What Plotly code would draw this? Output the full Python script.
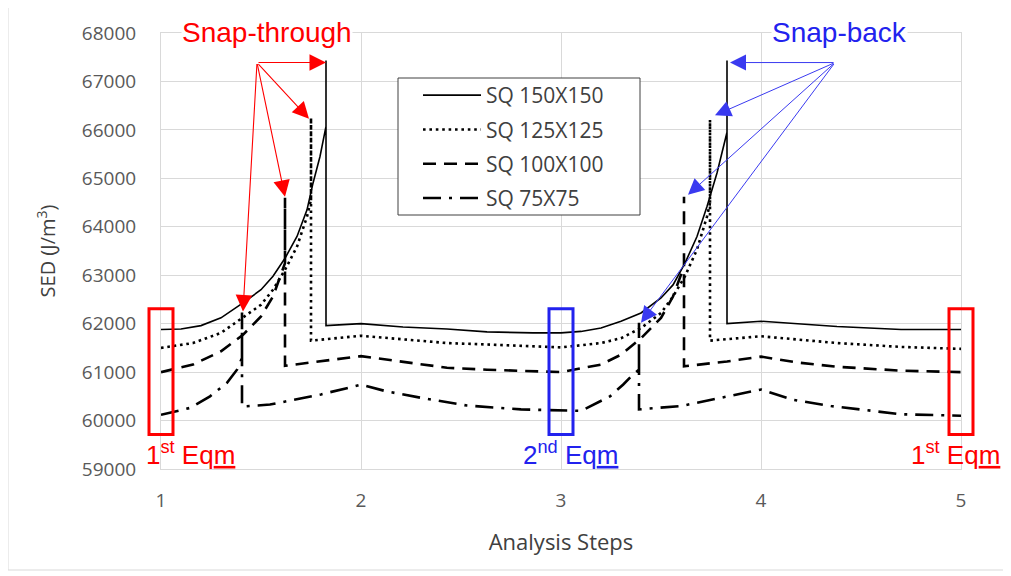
import plotly.graph_objects as go

# ---------------- data ----------------
names = ["SQ 150X150", "SQ 125X125", "SQ 100X100", "SQ 75X75"]

x_150 = [1.0, 1.1, 1.2, 1.3, 1.41, 1.5, 1.56, 1.62, 1.68, 1.73, 1.76, 1.795, 1.825, 1.825, 1.825,
         2.0, 2.21, 2.43, 2.63, 2.86, 3.0, 3.1, 3.2, 3.3, 3.4, 3.5, 3.56, 3.62, 3.68, 3.73, 3.78,
         3.83, 3.83, 3.83, 4.0, 4.38, 4.7, 5.0]
y_150 = [61880, 61890, 61960, 62120, 62430, 62700, 62980, 63350, 63800, 64350, 64900, 65450, 66070, 67430, 61960,
         62000, 61930, 61890, 61830, 61810, 61810, 61840, 61910, 62050, 62220, 62530, 62800, 63250, 63800, 64420, 65110,
         65950, 67430, 62000, 62050, 61940, 61880, 61880]

x_125 = [1.0, 1.16, 1.3, 1.41, 1.5, 1.56, 1.62, 1.68, 1.73, 1.75, 1.75, 1.75,
         2.0, 2.21, 2.43, 2.63, 3.0, 3.2, 3.3, 3.4, 3.5, 3.56, 3.62, 3.68, 3.73, 3.745, 3.745, 3.745,
         4.0, 4.38, 4.7, 5.0]
y_125 = [61500, 61600, 61810, 62120, 62390, 62700, 63110, 63590, 64210, 64560, 66250, 61650,
         61750, 61670, 61600, 61570, 61510, 61600, 61700, 61910, 62220, 62560, 62980, 63530, 64210, 64490, 66210, 61650,
         61740, 61600, 61520, 61480]

x_100 = [1.0, 1.16, 1.3, 1.41, 1.5, 1.56, 1.62, 1.62, 1.62,
         2.0, 2.21, 2.43, 2.63, 3.0, 3.2, 3.3, 3.4, 3.5, 3.56, 3.615, 3.615, 3.615,
         3.83, 4.0, 4.18, 4.38, 4.7, 5.0]
y_100 = [61000, 61155, 61430, 61770, 62150, 62560, 63250, 64600, 61130,
         61330, 61220, 61090, 61050, 61000, 61155, 61360, 61700, 62120, 62560, 63180, 64620, 61120,
         61220, 61320, 61200, 61110, 61030, 61000]

x_75 = [1.0, 1.145, 1.245, 1.33, 1.38, 1.405, 1.405, 1.405, 1.545, 1.8,
        2.0, 2.13, 2.3, 2.53, 2.8, 3.0, 3.1, 3.245, 3.31, 3.36, 3.39, 3.39, 3.39,
        3.6, 3.8, 4.0, 4.16, 4.35, 4.7, 5.0]
y_75 = [60120, 60260, 60500, 60780, 61050, 61290, 62230, 60290, 60330, 60540,
        60740, 60600, 60470, 60310, 60230, 60210, 60200, 60500, 60740, 60950, 61050, 62020, 60230,
        60300, 60470, 60640, 60430, 60300, 60130, 60100]

x_ticks = [1, 2, 3, 4, 5]
y_ticks = [59000, 60000, 61000, 62000, 63000, 64000, 65000, 66000, 67000, 68000]

# snap points (arrow targets) in data units
snap_through_tail = (1.48, 67390)
snap_through_heads = [(1.825, 67390), (1.74, 66230), (1.62, 64620), (1.41, 62250)]
snap_back_tail = (4.37, 67390)
snap_back_heads = [(3.845, 67390), (3.77, 66300), (3.635, 64660), (3.40, 62020)]

eqm_label_x = [1.15, 3.045, 4.975]      # label centres, in analysis steps
eqm_steps = [1, 3, 5]
eqm_colors = ["#FF0000", "#2222EE", "#FF0000"]
eqm_texts = ["1<sup>st</sup> Eq<u>m</u>", "2<sup>nd</sup> Eq<u>m</u>", "1<sup>st</sup> Eq<u>m</u>"]

# ---------------- layout geometry ----------------
XR = [1, 5]
YR = [59000, 68000]
BODY = 8                      # page body margin of the html file
PL, PR, PT, PB = 161, 961, 33, 469   # plot area in page pixels


def xp(v):
    return (v - XR[0]) / (XR[1] - XR[0])


def yp(v):
    return (v - YR[0]) / (YR[1] - YR[0])


def px2x(px):
    return (px - PL) / (PR - PL)


def px2y(py):
    return (PB - py) / (PB - PT)


styles = [
    dict(color="black", width=1.6, dash="solid"),
    dict(color="black", width=2.6, dash="2.6px,3.8px"),
    dict(color="black", width=2.6, dash="13px,8px"),
    dict(color="black", width=2.6, dash="18px,8px,3px,8px"),
]

fig = go.Figure()
for i, (xs, ys) in enumerate([(x_150, y_150), (x_125, y_125), (x_100, y_100), (x_75, y_75)]):
    fig.add_trace(go.Scatter(x=xs, y=ys, mode="lines", name=names[i],
                             line=styles[i], legendgroup=f"g{i}"))

annotations = []
for (hx, hy) in snap_through_heads:
    annotations.append(dict(x=hx, y=hy, xref="x", yref="y", ax=snap_through_tail[0], ay=snap_through_tail[1],
                            axref="x", ayref="y", text="", showarrow=True, arrowhead=2, arrowsize=3.0,
                            arrowwidth=1.1, arrowcolor="#FF0000", standoff=0, startstandoff=0))
for (hx, hy) in snap_back_heads:
    annotations.append(dict(x=hx, y=hy, xref="x", yref="y", ax=snap_back_tail[0], ay=snap_back_tail[1],
                            axref="x", ayref="y", text="", showarrow=True, arrowhead=2, arrowsize=3.2,
                            arrowwidth=1.0, arrowcolor="#3A3AF0", standoff=0, startstandoff=0))

annotations.append(dict(x=px2x(267), y=px2y(32), xref="paper", yref="paper", text="Snap-through", showarrow=False,
                        font=dict(family="Liberation Sans, Arial", size=28, color="#FF0000"),
                        xanchor="center", yanchor="middle", bgcolor="white", borderpad=0))
annotations.append(dict(x=px2x(839), y=px2y(32), xref="paper", yref="paper", text="Snap-back", showarrow=False,
                        font=dict(family="Liberation Sans, Arial", size=28, color="#2222EE"),
                        xanchor="center", yanchor="middle", bgcolor="white", borderpad=0))

shapes = []
for s, lx, c, t in zip(eqm_steps, eqm_label_x, eqm_colors, eqm_texts):
    shapes.append(dict(type="rect", xref="paper", yref="paper",
                       x0=xp(s - 0.06), x1=xp(s + 0.06), y0=yp(59710), y1=yp(62310),
                       line=dict(color=c, width=3), fillcolor="rgba(0,0,0,0)", layer="above"))
    annotations.append(dict(x=xp(lx), y=yp(59330), xref="paper", yref="paper", text=t, showarrow=False,
                            font=dict(family="Liberation Sans, Arial", size=26, color=c),
                            xanchor="center", yanchor="middle"))

# legend frame (white box with dark border)
shapes.append(dict(type="rect", xref="paper", yref="paper",
                   x0=px2x(398), x1=px2x(640), y0=px2y(215), y1=px2y(78),
                   line=dict(color="#404040", width=1), fillcolor="white", layer="above"))

# outer chart border
shapes.append(dict(type="rect", xref="paper", yref="paper",
                   x0=px2x(8), x1=px2x(1007), y0=px2y(570), y1=px2y(7),
                   line=dict(color="#D9D9D9", width=1), layer="below"))

tickfont = dict(family="Open Sans", size=19, color="#595959")

W, H = 1011 - BODY, 576 - BODY
fig.update_layout(
    width=W, height=H,
    margin=dict(l=PL - BODY, r=W - (PR - BODY), t=PT - BODY, b=H - (PB - BODY)),
    paper_bgcolor="white", plot_bgcolor="white",
    showlegend=True,
    legend=dict(x=px2x(418), y=px2y(75), xanchor="left", yanchor="top",
                bgcolor="rgba(0,0,0,0)", borderwidth=0,
                font=dict(family="Open Sans", size=21, color="#404040"),
                tracegroupgap=4, itemwidth=58),
    xaxis=dict(range=XR, tickvals=x_ticks, showgrid=True, gridcolor="#D9D9D9", gridwidth=1,
               zeroline=False, showline=True, linecolor="#D9D9D9", mirror=True,
               ticks="", tickfont=tickfont, ticklabelstandoff=14,
               title=dict(text="Analysis Steps", font=dict(family="Open Sans", size=22, color="#404040"),
                          standoff=22)),
    yaxis=dict(range=YR, tickvals=y_ticks, tickformat="d", showgrid=True, gridcolor="#D9D9D9", gridwidth=1,
               zeroline=False, showline=True, linecolor="#D9D9D9", mirror=True,
               ticks="", tickfont=tickfont, ticklabelstandoff=20,
               title=dict(text="SED (J/m<sup>3</sup>)", font=dict(family="Open Sans", size=20, color="#404040"),
                          standoff=20)),
    annotations=annotations,
    shapes=shapes,
)

fig.write_html("out.html")
